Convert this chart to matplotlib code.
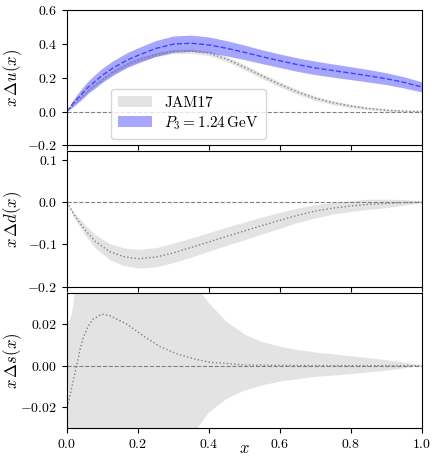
import numpy as np
import matplotlib
matplotlib.use("Agg")
import matplotlib.pyplot as plt

plt.rcParams['font.family'] = 'serif'
plt.rcParams['font.serif'] = ['cmr10', 'DejaVu Serif']
plt.rcParams['mathtext.fontset'] = 'cm'
plt.rcParams['axes.formatter.use_mathtext'] = True
plt.rcParams['font.size'] = 10

# --- u quark: lattice result at P3 = 1.24 GeV ---
x_lat = [0.0, 0.01, 0.02, 0.04, 0.06, 0.08, 0.1, 0.13, 0.17, 0.2, 0.25, 0.3, 0.35,
         0.4, 0.45, 0.5, 0.55, 0.6, 0.65, 0.7, 0.75, 0.8, 0.85, 0.9, 0.95, 1.0]
u_lat = [0.0, 0.03, 0.055, 0.10, 0.145, 0.18, 0.215, 0.258, 0.305, 0.332, 0.373, 0.399, 0.404,
         0.394, 0.374, 0.350, 0.324, 0.30, 0.277, 0.258, 0.242, 0.227, 0.211, 0.194, 0.172, 0.145]
u_lat_err = [0.0, 0.014, 0.022, 0.032, 0.037, 0.04, 0.042, 0.043, 0.044, 0.045, 0.047, 0.048, 0.048,
             0.047, 0.045, 0.043, 0.041, 0.04, 0.04, 0.04, 0.039, 0.038, 0.037, 0.035, 0.033, 0.03]

# --- JAM17 global fit ---
x_jam = [0.0, 0.02, 0.04, 0.06, 0.08, 0.1, 0.13, 0.17, 0.2, 0.25, 0.3, 0.35, 0.4,
         0.45, 0.5, 0.55, 0.6, 0.65, 0.7, 0.75, 0.8, 0.85, 0.9, 0.95, 1.0]
u_jam = [0.0, 0.045, 0.085, 0.125, 0.16, 0.19, 0.235, 0.28, 0.305, 0.337, 0.355, 0.357, 0.345,
         0.31, 0.262, 0.21, 0.16, 0.115, 0.078, 0.052, 0.032, 0.018, 0.008, 0.003, 0.0]
u_jam_err = [0.0, 0.004, 0.006, 0.008, 0.009, 0.01, 0.011, 0.012, 0.012, 0.013, 0.013, 0.013, 0.014,
             0.014, 0.015, 0.015, 0.015, 0.014, 0.013, 0.012, 0.01, 0.008, 0.006, 0.004, 0.002]

x_d = [0.0, 0.02, 0.05, 0.08, 0.12, 0.16, 0.2, 0.25, 0.3, 0.35, 0.4, 0.45, 0.5,
       0.55, 0.6, 0.65, 0.7, 0.75, 0.8, 0.85, 0.9, 0.95, 1.0]
d_jam = [0.0, -0.03, -0.065, -0.093, -0.117, -0.129, -0.134, -0.130, -0.120, -0.107, -0.094, -0.081, -0.068,
         -0.055, -0.043, -0.031, -0.021, -0.014, -0.009, -0.005, -0.003, -0.001, 0.0]
d_jam_lo = [0.0, -0.036, -0.077, -0.109, -0.136, -0.150, -0.156, -0.153, -0.143, -0.130, -0.116, -0.102, -0.089,
            -0.075, -0.062, -0.048, -0.037, -0.028, -0.022, -0.017, -0.013, -0.007, -0.002]
d_jam_hi = [0.0, -0.024, -0.053, -0.077, -0.098, -0.108, -0.112, -0.108, -0.097, -0.085, -0.072, -0.059, -0.047,
            -0.035, -0.024, -0.014, -0.006, 0.0, 0.004, 0.007, 0.007, 0.006, 0.003]

x_s = [0.0, 0.007, 0.018, 0.028, 0.037, 0.046, 0.06, 0.074, 0.098, 0.121, 0.168, 0.215, 0.262,
       0.309, 0.356, 0.403, 0.45, 0.5, 0.6, 0.7, 0.8, 0.9, 1.0]
s_jam = [-0.02, -0.0158, -0.0068, 0.0005, 0.0078, 0.0135, 0.019, 0.0224, 0.0247, 0.024, 0.020, 0.0143, 0.0091,
         0.0057, 0.0033, 0.0016, 0.001, 0.0003, 0.0001, 0.0, 0.0, 0.0, 0.0]

x_s_hi = [0.0, 0.005, 0.0125, 0.018, 0.022, 0.03, 0.1, 0.2, 0.3, 0.35, 0.375, 0.4, 0.45,
          0.5, 0.55, 0.6, 0.65, 0.7, 0.75, 0.8, 0.85, 0.9, 0.95, 1.0]
s_jam_hi = [0.0205, 0.021, 0.024, 0.029, 0.0355, 0.05, 0.12, 0.1, 0.06, 0.042, 0.0355, 0.030, 0.021,
            0.015, 0.0113, 0.0091, 0.0075, 0.0063, 0.0054, 0.0045, 0.0035, 0.0026, 0.0014, 0.0]
x_s_lo = [0.0, 0.1, 0.2, 0.3, 0.36, 0.4, 0.45, 0.5, 0.55, 0.6, 0.65, 0.7, 0.75,
          0.8, 0.85, 0.9, 0.95, 1.0]
s_jam_lo = [-0.06, -0.12, -0.1, -0.06, -0.032, -0.0225, -0.016, -0.012, -0.0095, -0.0077, -0.0065, -0.0054, -0.0048,
            -0.0041, -0.0033, -0.0024, -0.0013, 0.0]

band_gray = '#e3e3e3'

fig, axes = plt.subplots(3, 1, figsize=(4.32, 4.59), dpi=100, sharex=True)
fig.subplots_adjust(left=0.155, right=0.977, top=0.978, bottom=0.0675, hspace=0.045)
ax1, ax2, ax3 = axes

# Delta u
xl = np.array(x_lat)
ul = np.array(u_lat)
el = np.array(u_lat_err)
xj = np.array(x_jam)
uj = np.array(u_jam)
ej = np.array(u_jam_err)
ax1.fill_between(xj, uj - ej, uj + ej, color=band_gray, lw=0, label='JAM17')
ax1.plot(xj, uj, ls=':', color='gray', lw=1.0)
ax1.fill_between(xl, ul - el, ul + el, color='blue', alpha=0.35, lw=0,
                 label=r'$P_3 = 1.24\,\mathrm{GeV}$')
ax1.plot(xl, ul, ls='--', color='blue', alpha=0.6, lw=1.0)
ax1.set_ylim(-0.2, 0.6)
ax1.set_yticks([-0.2, 0.0, 0.2, 0.4, 0.6])
ax1.set_ylabel(r'$x\,\Delta u(x)$', fontsize=12)
ax1.legend(loc=(0.125, 0.05), fontsize=11, handlelength=2.2, borderpad=0.45,
           labelspacing=0.3, handletextpad=0.8)

# Delta d
ax2.fill_between(x_d, d_jam_lo, d_jam_hi, color=band_gray, lw=0)
ax2.plot(x_d, d_jam, ls=':', color='gray', lw=1.0)
ax2.set_ylim(-0.2, 0.12)
ax2.set_yticks([-0.2, -0.1, 0.0, 0.1])
ax2.set_ylabel(r'$x\,\Delta d(x)$', fontsize=12)

# Delta s
x_grid = np.union1d(x_s_hi, x_s_lo)
ax3.fill_between(x_grid, np.interp(x_grid, x_s_lo, s_jam_lo),
                 np.interp(x_grid, x_s_hi, s_jam_hi), color=band_gray, lw=0)
ax3.plot(x_s, s_jam, ls=':', color='gray', lw=1.0)
ax3.set_ylim(-0.03, 0.035)
ax3.set_yticks([-0.02, 0.0, 0.02])
ax3.yaxis.set_major_formatter(matplotlib.ticker.FormatStrFormatter('$%.2f$'))
ax3.set_ylabel(r'$x\,\Delta s(x)$', fontsize=12)
ax3.set_xlabel(r'$x$', fontsize=12)
ax3.xaxis.set_label_coords(0.5, -0.095)

for ax in axes:
    ax.axhline(0, ls='--', color='gray', lw=0.8)
    ax.set_xlim(0, 1)
    ax.yaxis.set_label_coords(-0.12, 0.5)

ax1.yaxis.set_major_formatter(matplotlib.ticker.FormatStrFormatter('$%.1f$'))
ax2.yaxis.set_major_formatter(matplotlib.ticker.FormatStrFormatter('$%.1f$'))
ax3.xaxis.set_major_formatter(matplotlib.ticker.FormatStrFormatter('$%.1f$'))
ax3.set_xticks([0.0, 0.2, 0.4, 0.6, 0.8, 1.0])

fig.savefig('out.png', dpi=100)
